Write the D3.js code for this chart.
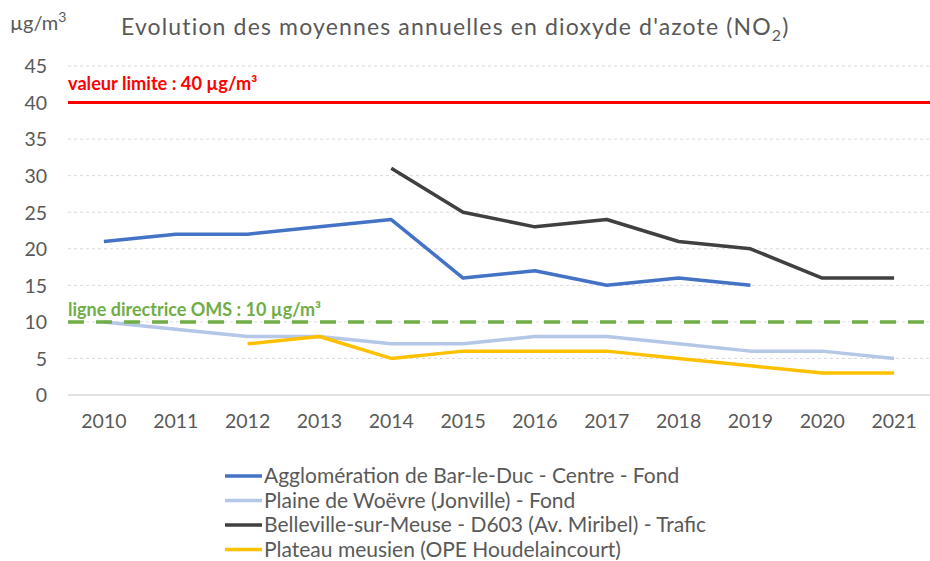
<!DOCTYPE html>
<html><head><meta charset="utf-8">
<script src="https://cdn.jsdelivr.net/npm/d3@7"></script>
<style>body{margin:0;background:#fff}svg{display:block;font-family:Lato,"Open Sans",sans-serif}</style>
</head><body><svg id="c" width="930" height="561"></svg>
<script>
const years = ["2010","2011","2012","2013","2014","2015","2016","2017","2018","2019","2020","2021"];
const barLeDuc = [21,22,22,23,24,16,17,15,16,15,null,null];
const woevre = [10,9,8,8,7,7,8,8,7,6,6,5];
const belleville = [null,null,null,null,31,25,23,24,21,20,16,16];
const plateau = [null,null,7,8,5,6,6,6,5,4,3,3];
const seriesNames = ["Agglomération de Bar-le-Duc - Centre - Fond","Plaine de Woëvre (Jonville) - Fond","Belleville-sur-Meuse - D603 (Av. Miribel) - Trafic","Plateau meusien (OPE Houdelaincourt)"];
const seriesColors = ["#4472C4","#B4C7E7","#404040","#FFC000"];
const yTicks = [0,5,10,15,20,25,30,35,40,45];
const limitValue = 40, omsValue = 10;

const svg = d3.select("#c");
const x = d3.scaleBand().domain(years).range([68,930]);
const y = d3.scaleLinear().domain([0,45]).range([395,66]);

// grid
svg.append("g").selectAll("line").data(yTicks.filter(d=>d>0)).join("line")
  .attr("x1",68).attr("x2",930).attr("y1",d=>y(d)).attr("y2",d=>y(d))
  .attr("stroke","#D9D9D9").attr("stroke-width",1).attr("stroke-dasharray","3,3");
svg.append("line").attr("x1",68).attr("x2",930).attr("y1",y(0)).attr("y2",y(0)).attr("stroke","#D9D9D9").attr("stroke-width",1.5);

// y axis labels
const ya = svg.append("g").attr("transform","translate(47,0)").call(d3.axisLeft(y).tickValues(yTicks).tickSize(0).tickPadding(0));
ya.select(".domain").remove();
ya.selectAll("text").attr("font-family","Lato").attr("font-size",19.5).attr("fill","#595959").attr("dy","0.35em");

// x axis labels
const xa = svg.append("g").attr("transform","translate(0,395)").call(d3.axisBottom(x).tickSize(0).tickPadding(19));
xa.select(".domain").remove();
xa.selectAll("text").attr("font-family","Lato").attr("font-size",19.5).attr("fill","#595959");

// reference lines
svg.append("line").attr("x1",68).attr("x2",930).attr("y1",y(limitValue)).attr("y2",y(limitValue)).attr("stroke","#FF0000").attr("stroke-width",3);
svg.append("text").attr("x",68).attr("y",90).attr("fill","#FF0000").attr("font-weight","bold").attr("font-size",18.2).attr("font-family","Lato").text("valeur limite : 40 µg/m³");

const lineGen = d3.line().defined(d=>d.v!=null).x(d=>x(d.yr)+x.bandwidth()/2).y(d=>y(d.v));
const all = [barLeDuc,woevre,belleville,plateau];
all.forEach((arr,i)=>{
  svg.append("path").datum(years.map((yr,j)=>({yr,v:arr[j]})))
    .attr("d",lineGen).attr("fill","none").attr("stroke",seriesColors[i]).attr("stroke-width",3.5).attr("stroke-linejoin","round");
});
svg.append("line").attr("x1",68).attr("x2",930).attr("y1",y(omsValue)).attr("y2",y(omsValue)).attr("stroke","#70AD47").attr("stroke-width",3.5).attr("stroke-dasharray","16,12");
svg.append("text").attr("x",68).attr("y",316).attr("fill","#70AD47").attr("font-weight","bold").attr("font-size",18).attr("font-family","Lato").text("ligne directrice OMS : 10 µg/m³");

// title
svg.append("text").attr("x",10).attr("y",30).attr("font-size",20).attr("fill","#595959").attr("font-family","Lato").html('µg/m<tspan dy="-8" font-size="14">3</tspan>');
const t = svg.append("text").attr("x",121).attr("y",35).attr("font-size",23).attr("letter-spacing",1.15).attr("fill","#595959").attr("font-family","Lato");
t.append("tspan").text("Evolution des moyennes annuelles en dioxyde d'azote (NO");
t.append("tspan").attr("dy",6).attr("font-size",16).text("2");
t.append("tspan").attr("dy",-6).text(")");

// legend
const lg = svg.append("g");
seriesNames.forEach((n,i)=>{
  const yy = 476 + i*24.5;
  lg.append("line").attr("x1",225).attr("x2",262).attr("y1",yy).attr("y2",yy).attr("stroke",seriesColors[i]).attr("stroke-width",3.5);
  lg.append("text").attr("x",264).attr("y",yy).attr("dy","0.35em").attr("font-size",21).attr("fill","#595959").attr("font-family","Lato").text(n);
});
</script></body></html>
